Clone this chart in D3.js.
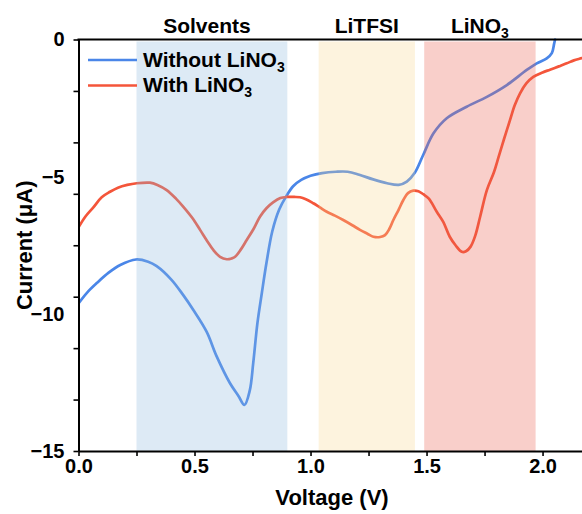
<!DOCTYPE html>
<html>
<head>
<meta charset="utf-8">
<script src="https://cdn.jsdelivr.net/npm/d3@7"></script>
<style>
  html, body { margin: 0; padding: 0; background: #fff; }
  svg { display: block; }
  text { font-family: "Liberation Sans", Arial, Helvetica, sans-serif; font-weight: bold; fill: #000; }
</style>
</head>
<body>
<svg id="chart" width="582" height="514"></svg>
<script>
// Linear sweep voltammetry: current vs voltage, with and without LiNO3
const withoutV = [0, 0.04, 0.08, 0.13, 0.18, 0.248, 0.30, 0.337, 0.40, 0.45, 0.495, 0.552, 0.596, 0.653, 0.69, 0.715, 0.738, 0.753, 0.771, 0.79, 0.81, 0.835, 0.865, 0.895, 0.925, 0.96, 1.0, 1.05, 1.11, 1.16, 1.21, 1.27, 1.33, 1.38, 1.415, 1.45, 1.486, 1.53, 1.587, 1.673, 1.76, 1.846, 1.932, 1.975, 2.018, 2.04, 2.05, 2.054];
const withoutI = [-9.62, -9.2, -8.87, -8.5, -8.22, -8.02, -8.1, -8.26, -8.75, -9.3, -9.86, -10.65, -11.56, -12.53, -13.0, -13.32, -12.8, -11.8, -10.35, -9.25, -8.15, -7.0, -6.2, -5.72, -5.35, -5.12, -4.97, -4.87, -4.82, -4.82, -4.93, -5.1, -5.24, -5.3, -5.18, -4.85, -4.2, -3.42, -2.87, -2.45, -2.09, -1.66, -1.11, -0.87, -0.69, -0.5, -0.15, 0];

const withV = [0, 0.03, 0.064, 0.1, 0.136, 0.17, 0.21, 0.251, 0.308, 0.34, 0.38, 0.42, 0.452, 0.49, 0.524, 0.555, 0.581, 0.61, 0.639, 0.66, 0.675, 0.70, 0.725, 0.755, 0.782, 0.81, 0.84, 0.87, 0.897, 0.93, 0.955, 0.98, 1.012, 1.04, 1.07, 1.105, 1.141, 1.18, 1.213, 1.245, 1.271, 1.3, 1.321, 1.34, 1.357, 1.38, 1.4, 1.42, 1.443, 1.465, 1.486, 1.51, 1.544, 1.572, 1.60, 1.625, 1.652, 1.67, 1.69, 1.71, 1.731, 1.76, 1.79, 1.81, 1.835, 1.86, 1.88, 1.903, 1.93, 1.96, 2.0, 2.032, 2.07, 2.104, 2.135, 2.17, 2.2];
const withI = [-6.85, -6.45, -6.12, -5.75, -5.55, -5.4, -5.3, -5.24, -5.22, -5.3, -5.49, -5.8, -6.1, -6.5, -6.94, -7.35, -7.67, -7.92, -8.01, -7.98, -7.92, -7.65, -7.31, -6.9, -6.46, -6.15, -5.93, -5.78, -5.74, -5.74, -5.75, -5.82, -5.97, -6.12, -6.28, -6.42, -6.58, -6.77, -6.94, -7.08, -7.19, -7.2, -7.13, -6.9, -6.58, -6.2, -5.85, -5.6, -5.51, -5.53, -5.64, -5.8, -6.28, -6.65, -7.19, -7.5, -7.74, -7.72, -7.55, -7.15, -6.46, -5.49, -4.85, -4.3, -3.6, -2.93, -2.4, -1.96, -1.6, -1.36, -1.2, -1.1, -0.98, -0.87, -0.76, -0.68, -0.6];

// Shaded voltage windows
const bandNames = ["Solvents", "LiTFSI", "LiNO"];
const bandSubs = ["", "", "3"];
const bandStart = [0.25, 1.035, 1.49];
const bandEnd = [0.90, 1.45, 1.97];

// Axis ticks
const xTicks = [0, 0.25, 0.5, 0.75, 1.0, 1.25, 1.5, 1.75, 2.0];
const yLabels = [0, -5, -10, -15];
const yTickMarks = [0, -1.875, -3.75, -5.625, -7.5, -9.375, -11.25, -13.125, -15];

const legendNames = ["Without LiNO", "With LiNO"];

const svg = d3.select("#chart");
const plotLeft = 78.5, plotRight = 582, plotTop = 39.5, plotBottom = 451;

const x = d3.scaleLinear().domain([0, 2.17]).range([plotLeft, plotRight]);
const y = d3.scaleLinear().domain([-15, 0]).range([plotBottom, plotTop]);

const blue = "#4a86e8", red = "#f4553a";
const bandFill = ["#8eb9de", "#f8d791", "#eb5f4e"];

svg.append("defs").append("clipPath").attr("id", "plot")
  .append("rect").attr("x", plotLeft).attr("y", plotTop - 2)
  .attr("width", plotRight - plotLeft).attr("height", plotBottom - plotTop + 2);

const line = d3.line().x(d => x(d[0])).y(d => y(d[1])).curve(d3.curveCatmullRom.alpha(0.5));

const series = [
  { pts: d3.zip(withoutV, withoutI), color: blue },
  { pts: d3.zip(withV, withI), color: red }
];

const g = svg.append("g").attr("clip-path", "url(#plot)");
series.forEach(s => {
  g.append("path").datum(s.pts)
    .attr("d", line)
    .attr("fill", "none")
    .attr("stroke", s.color)
    .attr("stroke-width", 2.7)
    .attr("stroke-linejoin", "round")
    .attr("stroke-linecap", "round");
});

// translucent bands laid over the curves
bandStart.forEach((b, i) => {
  svg.append("rect")
    .attr("x", x(b))
    .attr("y", plotTop + 2)
    .attr("width", x(bandEnd[i]) - x(b))
    .attr("height", plotBottom - plotTop - 2)
    .attr("fill", bandFill[i])
    .attr("fill-opacity", 0.3);
});

// band titles
bandNames.forEach((name, i) => {
  const t = svg.append("text")
    .attr("x", x((bandStart[i] + bandEnd[i]) / 2) - (i === 0 ? 5 : 0))
    .attr("y", 33)
    .attr("text-anchor", "middle")
    .style("font-size", "21px")
    .text(name);
  if (bandSubs[i]) {
    t.append("tspan").attr("dy", 5).style("font-size", "14px").text(bandSubs[i]);
  }
});

// x axis
const xAxis = svg.append("g")
  .attr("transform", `translate(0,${plotBottom})`)
  .call(d3.axisBottom(x).tickValues(xTicks)
    .tickFormat(d => (Math.abs(d * 2 - Math.round(d * 2)) < 1e-9) ? d3.format(".1f")(d) : "")
    .tickSize(5).tickSizeOuter(0).tickPadding(3));
xAxis.selectAll("text").style("font-size", "20px").style("font-family", "Liberation Sans, Arial, sans-serif").style("font-weight", "bold").attr("fill", "#000");
xAxis.select(".domain").attr("stroke-width", 2);
xAxis.selectAll(".tick line").attr("stroke-width", 1.6);

// y axis: labels and tick marks
const yAxisLabels = svg.append("g")
  .attr("transform", `translate(${plotLeft},0)`)
  .call(d3.axisLeft(y).tickValues(yLabels).tickFormat(d3.format("d")).tickSize(0).tickSizeOuter(0).tickPadding(14));
yAxisLabels.selectAll("text").style("font-size", "20px").style("font-family", "Liberation Sans, Arial, sans-serif").style("font-weight", "bold").attr("fill", "#000");
yAxisLabels.select(".domain").attr("stroke-width", 2);

const yAxisTicks = svg.append("g")
  .attr("transform", `translate(${plotLeft},0)`)
  .call(d3.axisLeft(y).tickValues(yTickMarks).tickFormat("").tickSize(5).tickSizeOuter(0));
yAxisTicks.select(".domain").remove();
yAxisTicks.selectAll(".tick line").attr("stroke-width", 1.6);

// top frame line
svg.append("line")
  .attr("x1", plotLeft - 1).attr("x2", plotRight)
  .attr("y1", plotTop).attr("y2", plotTop)
  .attr("stroke", "#000").attr("stroke-width", 2);

// axis titles
svg.append("text")
  .attr("x", 332).attr("y", 505)
  .attr("text-anchor", "middle")
  .style("font-size", "22px")
  .text("Voltage (V)");
svg.append("text")
  .attr("transform", `translate(32,${(plotTop + plotBottom) / 2}) rotate(-90)`)
  .attr("text-anchor", "middle")
  .style("font-size", "22px")
  .text("Current (μA)");

// legend
const legendColors = [blue, red];
legendNames.forEach((name, i) => {
  const ly = 60 + i * 25.5;
  svg.append("line")
    .attr("x1", 88).attr("x2", 137)
    .attr("y1", ly).attr("y2", ly)
    .attr("stroke", legendColors[i]).attr("stroke-width", 2.7);
  const t = svg.append("text")
    .attr("x", 143).attr("y", ly + 6.5)
    .style("font-size", "21px")
    .text(name);
  t.append("tspan").attr("dy", 5).style("font-size", "14px").text("3");
});
</script>
</body>
</html>
